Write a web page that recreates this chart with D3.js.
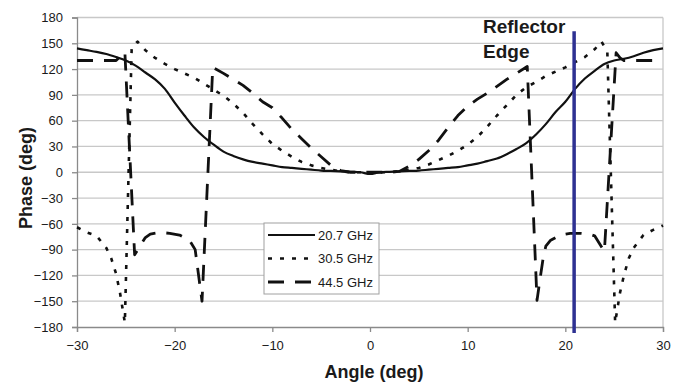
<!DOCTYPE html>
<html><head><meta charset="utf-8">
<script src="https://cdn.jsdelivr.net/npm/d3@7"></script>
<style>
html,body{margin:0;padding:0;background:#fff;}
svg{display:block;font-family:"Liberation Sans",Arial,sans-serif;}
</style></head>
<body><svg id="chart" width="685" height="384"></svg>
<script>
// ---- data ----
const seriesNames = ["20.7 GHz", "30.5 GHz", "44.5 GHz"];

const angles207 = [-30,-29,-28,-27,-26,-25,-24,-23,-22,-21,-20,-19,-18,-17,-16,-15,-14,-13,-12,-11,-10,-9,-8,-7,-6,-5,-4,-3,-2,-1,0,1,2,3,4,5,6,7,8,9,10,11,12,13,14,15,16,17,18,19,20,21,22,23,24,25,26,27,28,29,30];
const phase207  = [144,142,140,137.5,134,130,124,116,108,97,81,66,52,41,32,24,19,15,12,10,8,6,5,4,3,2,1.5,1,0.5,0,-2,0,0.5,1,1.5,2,3,4,5,6,8,10,13,16,21,27,34,44,56,70,82,97,109,118,126,130,132,135,139,142,144];

const angles305 = [-30,-29,-28,-27,-26.5,-26,-25.6,-25.1,-24.4,-23.8,-23,-22,-21,-20,-19,-18,-17,-16,-15,-14,-13,-12,-11,-10,-9,-8,-7,-6,-5,-4,-3,-2,-1,0,1,2,3,4,5,6,7,8,9,10,11,12,13,14,15,16,17,18,19,20,21,22,23,23.7,24.3,25.1,25.6,26,26.5,27,28,29,30];
const phase305  = [-64,-70,-74,-88,-100,-118,-140,-175,145,152,142,133,126,120,115,110,103,96,89,80,69,56,44,33,25,18,12,8,5,3,1,0,0,0,0,0,1,3,5,9,14,19,25,32,41,53,66,78,90,99,105,112,117,122,128,134,143,152,140,-175,-140,-120,-100,-88,-73,-67,-62];

const angles445 = [-30,-29,-28,-27,-26,-25.1,-24.1,-23.5,-23,-22.5,-21.5,-20.5,-19.5,-18.5,-17.9,-17.2,-16.1,-15,-14,-13,-12,-11,-10,-9,-8,-7,-6,-5,-4,-3,-2,-1,0,1,2,3,4,5,6,7,8,9,10,11,12,13,14,15,16.1,17.1,17.4,17.7,18,18.5,19.5,20.5,21.5,22.5,23,24,25.2,25.6,26,27,28,29,30];
const phase445  = [130,130,130,130,130,140,-96,-85,-76,-72,-70,-71,-73,-79,-90,-150,122,115,108,101,92,82,75,63,50,39,28,18,8,2,0,0,0,0,0,1,7,15,25,37,52,66,77,85,92,100,108,115,123,-149,-125,-102,-86,-79,-73,-71,-71,-72,-74,-92,139,133,130,130,130,130,130];

const xTicks = [-30,-20,-10,0,10,20,30];
const yTicks = [-180,-150,-120,-90,-60,-30,0,30,60,90,120,150,180];

const edgeAngle = 20.9;
const edgeSpan = [164, -187];
const edgeLabel = ["Reflector", "Edge"];
const xTitle = "Angle (deg)";
const yTitle = "Phase (deg)";

// ---- chart ----
const svg = d3.select("#chart");
const W = 685, H = 384;
const m = {left:77, right:22, top:17.5, bottom:57};
const x = d3.scaleLinear().domain([-30,30]).range([m.left, W - m.right]);
const y = d3.scaleLinear().domain([-180,180]).range([H - m.bottom, m.top]);

// gridlines
svg.append("g").selectAll("line").data(yTicks.filter(d => d > -180)).join("line")
  .attr("x1", x(-30)).attr("x2", x(30))
  .attr("y1", d => y(d)).attr("y2", d => y(d))
  .attr("stroke", "#c8c8c8").attr("stroke-width", 1.3);
// right border
svg.append("line").attr("x1", x(30)).attr("x2", x(30)).attr("y1", y(180)).attr("y2", y(-180))
  .attr("stroke", "#c8c8c8").attr("stroke-width", 1.3);

// axes
const xAxis = svg.append("g").attr("transform", `translate(0,${y(-180)})`)
  .call(d3.axisBottom(x).tickValues(xTicks).tickSize(5).tickPadding(9).tickFormat(d3.format("d")));
const yAxis = svg.append("g").attr("transform", `translate(${x(-30)},0)`)
  .call(d3.axisLeft(y).tickValues(yTicks).tickSize(5).tickPadding(9).tickFormat(d3.format("d")));
[xAxis, yAxis].forEach(g => {
  g.select(".domain").attr("stroke", "#8a8a8a").attr("stroke-width", 1.3);
  g.selectAll(".tick line").attr("stroke", "#8a8a8a").attr("stroke-width", 1.3);
  g.selectAll(".tick text").attr("fill", "#1a1a1a").style("font-size", "13px")
    .style("font-family", "'Liberation Sans',Arial,sans-serif");
});
xAxis.selectAll(".tick text").attr("dy", "0.71em");

// titles
svg.append("text").attr("x", (x(-30)+x(30))/2 + 4).attr("y", 378)
  .attr("text-anchor", "middle").attr("font-weight", "bold").attr("font-size", 18)
  .attr("fill", "#1a1a1a").text(xTitle);
svg.append("text").attr("transform", `translate(32,178) rotate(-90)`)
  .attr("text-anchor", "middle").attr("font-weight", "bold").attr("font-size", 18)
  .attr("fill", "#1a1a1a").text(yTitle);

// series
const styles = [
  {width: 2.2, dash: null},
  {width: 2.6, dash: "4,8"},
  {width: 2.8, dash: "16,11"}
];
const datasets = [
  angles207.map((a,i) => [a, phase207[i]]),
  angles305.map((a,i) => [a, phase305[i]]),
  angles445.map((a,i) => [a, phase445[i]])
];
const lineSmooth = d3.line().x(d => x(d[0])).y(d => y(d[1])).curve(d3.curveMonotoneX);
const lineStraight = d3.line().x(d => x(d[0])).y(d => y(d[1]));
datasets.forEach((ds, i) => {
  svg.append("path").datum(ds)
    .attr("d", i === 0 ? lineSmooth : lineStraight)
    .attr("fill", "none").attr("stroke", "#111")
    .attr("stroke-width", styles[i].width)
    .attr("stroke-dasharray", styles[i].dash)
    .attr("stroke-linejoin", "round");
});

// reflector edge
svg.append("line").attr("x1", x(edgeAngle)).attr("x2", x(edgeAngle))
  .attr("y1", y(edgeSpan[0])).attr("y2", y(edgeSpan[1]))
  .attr("stroke", "#2e3192").attr("stroke-width", 3.5);
svg.append("text").attr("x", 483).attr("y", 33).attr("font-weight", "bold")
  .attr("font-size", 19).attr("fill", "#1a1a1a")
  .selectAll("tspan").data(edgeLabel).join("tspan")
  .attr("x", 483).attr("dy", (d,i) => i ? 25 : 0).text(d => d);

// legend
const lg = svg.append("g").attr("transform", "translate(264,223)");
lg.append("rect").attr("width", 115).attr("height", 71).attr("fill", "#fff")
  .attr("stroke", "#a0a0a0").attr("stroke-width", 1);
seriesNames.forEach((name, i) => {
  const yy = 12 + i * 23.5;
  lg.append("line").attr("x1", 4).attr("x2", 51).attr("y1", yy).attr("y2", yy)
    .attr("stroke", "#111").attr("stroke-width", styles[i].width)
    .attr("stroke-dasharray", styles[i].dash);
  lg.append("text").attr("x", 54).attr("y", yy).attr("dy", "0.35em")
    .attr("font-size", 13).attr("fill", "#1a1a1a").text(name);
});
</script></body></html>
